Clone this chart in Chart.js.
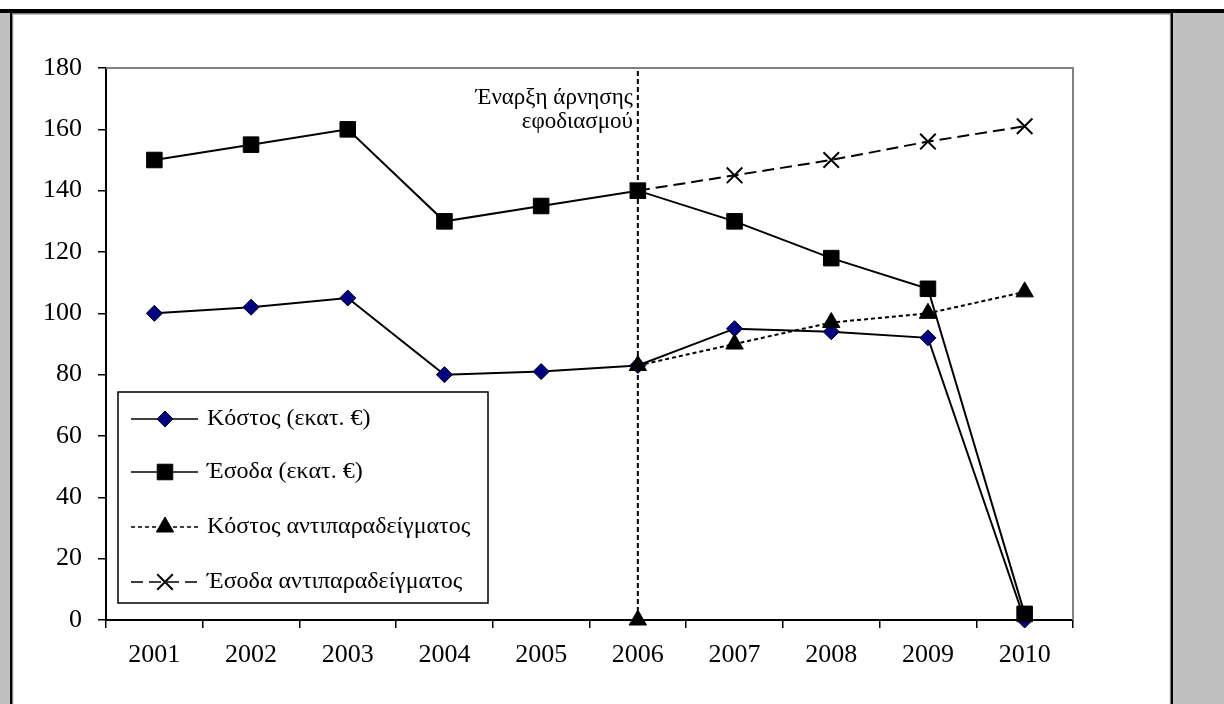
<!DOCTYPE html>
<html>
<head>
<meta charset="utf-8">
<script src="https://cdn.jsdelivr.net/npm/chart.js@4"></script>
<style>
  html, body { margin: 0; padding: 0; background: #fff; }
  #c { display: block; }
</style>
</head>
<body>
<canvas id="c" width="1224" height="704"></canvas>
<script>
// ---- data ----
const years = ['2001','2002','2003','2004','2005','2006','2007','2008','2009','2010'];
const cost = [100, 102, 105, 80, 81, 83, 95, 94, 92, 0];
const revenue = [150, 155, 160, 130, 135, 140, 130, 118, 108, 2];
const costCounterfactual = [null, null, null, null, null, 83, 90, 97, 100, 107];
const revenueCounterfactual = [null, null, null, null, null, 140, 145, 150, 156, 161];
const eventYear = '2006';
const eventRange = [0, 180];
const yTicks = { min: 0, max: 180, step: 20 };
const seriesNames = ['Κόστος (εκατ. €)', 'Έσοδα (εκατ. €)', 'Κόστος αντιπαραδείγματος', 'Έσοδα αντιπαραδείγματος'];
const annotationLines = ['Έναρξη άρνησης', 'εφοδιασμού'];

const FONT = "'Liberation Serif', 'Times New Roman', serif";

function drawMarker(ctx, style, r, x, y) {
  ctx.beginPath();
  if (style === 'rectRot') {
    ctx.moveTo(x, y - r); ctx.lineTo(x + r, y); ctx.lineTo(x, y + r); ctx.lineTo(x - r, y); ctx.closePath();
    ctx.fill(); ctx.stroke();
  } else if (style === 'rect') {
    const s = r * Math.SQRT1_2;
    ctx.rect(x - s, y - s, 2 * s, 2 * s);
    ctx.fill(); ctx.stroke();
  } else if (style === 'triangle') {
    ctx.moveTo(x, y - r);
    ctx.lineTo(x + r * Math.sin(Math.PI * 2 / 3), y - r * Math.cos(Math.PI * 2 / 3));
    ctx.lineTo(x - r * Math.sin(Math.PI * 2 / 3), y - r * Math.cos(Math.PI * 2 / 3));
    ctx.closePath();
    ctx.fill(); ctx.stroke();
  } else if (style === 'crossRot') {
    const o = r * Math.SQRT1_2;
    ctx.moveTo(x - o, y - o); ctx.lineTo(x + o, y + o);
    ctx.moveTo(x + o, y - o); ctx.lineTo(x - o, y + o);
    ctx.stroke();
  }
}

const framePlugin = {
  id: 'frame',
  beforeDraw(chart) {
    const ctx = chart.ctx;
    const W = chart.width, H = chart.height;
    ctx.save();
    ctx.fillStyle = '#ffffff';
    ctx.fillRect(0, 0, W, H);
    ctx.fillStyle = '#c0c0c0';
    ctx.fillRect(0, 13, 10, H - 13);
    ctx.fillRect(1173, 13, W - 1173, H - 13);
    ctx.fillStyle = '#000000';
    ctx.fillRect(0, 9, W, 4);
    ctx.fillRect(10, 13, 2, H - 13);
    ctx.fillRect(1171, 13, 2, H - 13);
    ctx.fillStyle = '#808080';
    ctx.fillRect(12, 13, 1159, 1.5);
    ctx.fillRect(12, 13, 1.2, H - 13);
    ctx.fillRect(1169.8, 13, 1.2, H - 13);
    ctx.restore();
  },
  beforeDatasetsDraw(chart) {
    const ctx = chart.ctx;
    const a = chart.chartArea;
    ctx.save();
    ctx.strokeStyle = '#808080';
    ctx.lineWidth = 2;
    ctx.beginPath();
    ctx.moveTo(a.left, a.top);
    ctx.lineTo(a.right, a.top);
    ctx.lineTo(a.right, a.bottom);
    ctx.stroke();
    ctx.restore();
  },
  afterDraw(chart) {
    const ctx = chart.ctx;
    const a = chart.chartArea;
    const xs = chart.scales.x;
    ctx.save();
    // annotation
    const lx = xs.getPixelForValue(years.indexOf(eventYear)) - 5;
    ctx.fillStyle = '#000';
    ctx.font = '23px ' + FONT;
    ctx.textAlign = 'right';
    ctx.textBaseline = 'middle';
    ctx.fillText(annotationLines[0], lx, a.top + 30);
    ctx.fillText(annotationLines[1], lx, a.top + 54);

    // legend
    const bx = 118, by = 392, bw = 370, bh = 211;
    ctx.fillStyle = '#fff';
    ctx.fillRect(bx, by, bw, bh);
    ctx.strokeStyle = '#000';
    ctx.lineWidth = 1.5;
    ctx.strokeRect(bx, by, bw, bh);
    const rows = [419, 472, 527, 582];
    const ds = chart.data.datasets;
    const x0 = 131, x1 = 198, xm = 165;
    ctx.font = '24px ' + FONT;
    ctx.textAlign = 'left';
    ctx.textBaseline = 'middle';
    for (let i = 0; i < 4; i++) {
      const d = ds[i];
      const y = rows[i];
      ctx.save();
      ctx.strokeStyle = '#000';
      ctx.lineWidth = 1.5;
      ctx.setLineDash(d.borderDash || []);
      ctx.beginPath();
      ctx.moveTo(x0, y);
      ctx.lineTo(x1, y);
      ctx.stroke();
      ctx.restore();
      ctx.save();
      ctx.fillStyle = d.pointBackgroundColor;
      ctx.strokeStyle = d.pointBorderColor;
      ctx.lineWidth = d.pointBorderWidth;
      drawMarker(ctx, d.pointStyle, d.pointRadius, xm, y);
      ctx.restore();
      ctx.fillStyle = '#000';
      ctx.fillText(seriesNames[i], 207, y);
    }
    ctx.restore();
  }
};

const ctx = document.getElementById('c').getContext('2d');
new Chart(ctx, {
  type: 'line',
  data: {
    labels: years,
    datasets: [
      {
        label: seriesNames[0], data: cost,
        borderColor: '#000', borderWidth: 2, clip: false,
        pointStyle: 'rectRot', pointRadius: 8, pointBorderWidth: 1,
        pointBackgroundColor: '#000080', pointBorderColor: '#000',
        order: 3
      },
      {
        label: seriesNames[1], data: revenue,
        borderColor: '#000', borderWidth: 2, clip: false,
        pointStyle: 'rect', pointRadius: 11, pointBorderWidth: 1,
        pointBackgroundColor: '#000', pointBorderColor: '#000',
        order: 1
      },
      {
        label: seriesNames[2], data: costCounterfactual,
        borderColor: '#000', borderWidth: 2, borderDash: [4, 3], clip: false,
        pointStyle: 'triangle', pointRadius: 10, pointBorderWidth: 1,
        pointBackgroundColor: '#000', pointBorderColor: '#000',
        order: 2
      },
      {
        label: seriesNames[3], data: revenueCounterfactual,
        borderColor: '#000', borderWidth: 2, borderDash: [12, 6], clip: false,
        pointStyle: 'crossRot', pointRadius: 11, pointBorderWidth: 2,
        pointBackgroundColor: '#000', pointBorderColor: '#000',
        order: 4
      },
      {
        label: 'event', data: [{ x: eventYear, y: eventRange[0] }, { x: eventYear, y: eventRange[1] }],
        borderColor: '#000', borderWidth: 2, borderDash: [5, 3], clip: false,
        pointStyle: 'triangle', pointRadius: [10, 0], pointBorderWidth: 1,
        pointBackgroundColor: '#000', pointBorderColor: '#000',
        order: 5
      }
    ]
  },
  options: {
    responsive: false,
    animation: false,
    devicePixelRatio: 1,
    layout: { padding: { left: 0, top: 68, right: 151, bottom: 0 } },
    plugins: { legend: { display: false }, tooltip: { enabled: false } },
    elements: { line: { tension: 0 } },
    scales: {
      x: {
        type: 'category',
        offset: true,
        grid: { offset: true, drawOnChartArea: false, drawTicks: true, tickLength: 8, color: '#000', lineWidth: 1.5 },
        border: { color: '#000', width: 2 },
        ticks: { color: '#000', font: { family: FONT, size: 26 }, padding: 12, maxRotation: 0, autoSkip: false },
        afterFit(s) { s.height = 84; }
      },
      y: {
        min: yTicks.min, max: yTicks.max,
        grid: { drawOnChartArea: false, drawTicks: true, tickLength: 8, color: '#000', lineWidth: 1.5 },
        border: { color: '#000', width: 2 },
        ticks: { stepSize: yTicks.step, color: '#000', font: { family: FONT, size: 26 }, padding: 16 },
        afterFit(s) { s.width = 106; }
      }
    }
  },
  plugins: [framePlugin]
});
</script>
</body>
</html>
